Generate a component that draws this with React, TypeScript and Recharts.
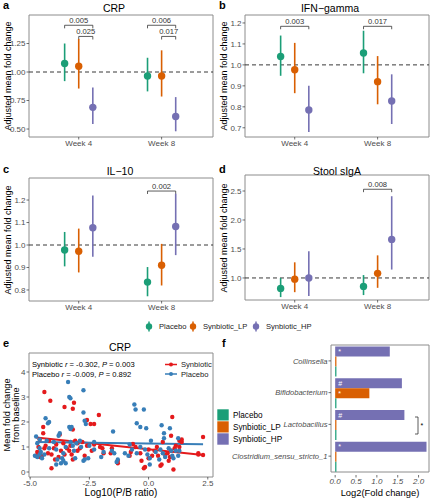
import React from 'react';
import {
  ComposedChart,
  Scatter,
  ErrorBar,
  XAxis,
  YAxis,
  ReferenceLine,
  ReferenceArea,
  BarChart,
  Bar,
  LabelList,
} from 'recharts';

const FONT = '"Liberation Sans", Arial, Helvetica, sans-serif';
const TICK = '#4d4d4d';
const BORDER = '#8c8c8c';

const weeks = ['Week 4', 'Week 8'];
const groups = ['Placebo', 'Synbiotic_LP', 'Synbiotic_HP'];
const groupColors = ['#1B9E77', '#D95F02', '#7570B3'];

// rows = groups (Placebo, LP, HP), cols = weeks (4, 8)
const crpMean = [[1.075, 0.965], [1.05, 0.965], [0.69, 0.61]];
const crpLow = [[0.92, 0.83], [0.855, 0.785], [0.545, 0.48]];
const crpHigh = [[1.25, 1.125], [1.29, 1.19], [0.865, 0.78]];

const ifnMean = [[1.04, 1.057], [0.977, 0.92], [0.785, 0.828]];
const ifnLow = [[0.948, 0.96], [0.865, 0.812], [0.68, 0.718]];
const ifnHigh = [[1.14, 1.163], [1.105, 1.042], [0.9, 0.955]];

const il10Mean = [[0.978, 0.835], [0.972, 0.91], [1.077, 1.082]];
const il10Low = [[0.905, 0.772], [0.878, 0.82], [0.948, 0.955]];
const il10High = [[1.058, 0.902], [1.073, 1.005], [1.22, 1.228]];

const sigaMean = [[0.82, 0.855], [0.98, 1.08], [1.0, 1.665]];
const sigaLow = [[0.67, 0.705], [0.755, 0.83], [0.69, 1.145]];
const sigaHigh = [[1.0, 1.05], [1.27, 1.39], [1.46, 2.41]];

type Bracket = { week: number; from: number; to: number; y: number; p: string };

const crpBrackets: Bracket[] = [
  { week: 0, from: 0, to: 2, y: 1.41, p: '0.005' },
  { week: 0, from: 1, to: 2, y: 1.312, p: '0.025' },
  { week: 1, from: 0, to: 2, y: 1.41, p: '0.006' },
  { week: 1, from: 1, to: 2, y: 1.312, p: '0.017' },
];
const ifnBrackets: Bracket[] = [
  { week: 0, from: 0, to: 2, y: 1.184, p: '0.003' },
  { week: 1, from: 0, to: 2, y: 1.184, p: '0.017' },
];
const il10Brackets: Bracket[] = [{ week: 1, from: 0, to: 2, y: 1.24, p: '0.002' }];
const sigaBrackets: Bracket[] = [{ week: 1, from: 0, to: 2, y: 2.53, p: '0.008' }];

// panel e: [log10(P/B), fold change]
const synbioticPoints: [number, number][] = [
  [-4.4, 3.2], [-4.15, 2.85], [-3.55, 2.6], [-3.15, 2.77], [-3.2, 2.53], [-2.6, 2.08], [-2.1, 2.28],
  [-2.3, 1.92], [-2.45, 1.92], [-4.45, 1.8], [-4.45, 1.55], [-3.75, 1.5], [-3.2, 1.7], [-4.6, 1.3],
  [-4.2, 1.25], [-4.75, 0.65], [-4.7, 0.8], [-4.65, 1.0], [-4.6, 0.6], [-4.5, 0.65], [-4.4, 0.95],
  [-4.35, 1.05], [-4.25, 0.75], [-4.1, 0.7], [-4.1, 0.15], [-4.0, 0.95], [-3.95, 0.5], [-3.9, 1.1],
  [-3.8, 0.6], [-3.7, 0.85], [-3.6, 1.15], [-3.55, 0.7], [-3.45, 0.95], [-3.35, 0.85], [-3.3, 1.05],
  [-3.25, 0.7], [-3.2, 0.5], [-3.1, 1.25], [-3.0, 1.15], [-3.0, 0.85], [-2.9, 0.95], [-2.8, 1.2],
  [-2.7, 0.65], [-2.6, 1.05], [-2.4, 0.85], [-2.3, 1.1], [-2.05, 1.0], [-1.95, 0.95], [-1.9, 0.75],
  [-1.6, 0.75], [-1.55, 0.95], [-1.3, 0.45], [-1.3, 0.35], [-0.8, 0.65], [-0.75, 0.8], [-0.66, 1.12],
  [-0.55, 1.0], [-0.35, 0.75], [-0.3, 0.45], [-0.2, 0.15], [-0.15, 0.2], [0.0, 0.9], [0.0, 0.55],
  [0.15, 0.65], [0.25, 0.85], [0.35, 1.0], [0.4, 0.65], [0.5, 0.25], [0.55, 0.3], [0.6, 1.2],
  [0.7, 0.7], [0.8, 0.75], [0.85, 0.45], [0.9, 0.6], [0.95, 0.85], [0.95, 1.45], [1.0, 2.2],
  [1.05, 0.1], [1.1, 0.95], [1.15, 1.05], [1.3, 1.0], [1.3, 1.25], [1.4, 1.3], [1.4, 1.2],
  [2.1, 0.75], [2.1, 0.7], [2.3, 0.68], [2.3, 1.4],
];
const placeboPoints: [number, number][] = [
  [-3.4, 3.6], [-3.35, 3.0], [-3.3, 2.95], [-2.75, 3.27], [-2.75, 2.38], [-2.7, 2.05], [-2.65, 1.92],
  [-0.6, 2.7], [-0.55, 2.5], [-0.2, 2.5], [-4.35, 2.15], [-4.2, 2.0], [-4.25, 1.95], [-3.35, 1.8],
  [-3.25, 1.8], [-3.3, 1.72], [-3.75, 1.55], [-3.8, 1.45], [-0.5, 1.95], [-0.35, 1.8], [-0.1, 1.75],
  [0.55, 1.87], [0.9, 1.75], [0.65, 1.55], [0.65, 1.35], [-1.5, 1.62], [1.25, 1.35], [-4.75, 1.42],
  [-4.6, 1.3], [-4.3, 1.25], [-4.8, 0.65], [-4.7, 1.15], [-4.7, 0.6], [-4.6, 0.95], [-4.6, 0.7],
  [-4.55, 0.8], [-4.5, 0.55], [-4.4, 0.7], [-4.2, 0.95], [-4.0, 1.2], [-3.9, 0.9], [-3.9, 0.3],
  [-3.85, 0.5], [-3.7, 0.35], [-3.65, 0.55], [-3.6, 0.45], [-3.6, 0.75], [-3.5, 0.35], [-3.5, 1.0],
  [-3.3, 1.2], [-3.2, 1.05], [-3.15, 0.85], [-3.1, 0.55], [-3.05, 1.15], [-2.9, 1.25], [-2.85, 1.0],
  [-2.75, 0.45], [-2.7, 0.5], [-2.55, 0.55], [-2.5, 1.05], [-2.3, 1.2], [-2.3, 0.9], [-2.0, 0.6],
  [-1.9, 0.8], [-1.55, 0.85], [-1.45, 0.75], [-1.35, 0.4], [-1.3, 0.5], [-1.0, 0.75], [-0.85, 0.65],
  [-0.8, 1.1], [-0.7, 0.9], [-0.5, 0.75], [-0.35, 1.0], [-0.15, 0.9], [-0.05, 0.7], [0.05, 0.55],
  [0.05, 0.3], [0.1, 1.25], [0.3, 0.8], [0.45, 0.5], [0.5, 0.9], [0.6, 0.75], [0.7, 0.6],
  [0.85, 0.95], [0.95, 0.85], [1.0, 0.65], [1.05, 0.55], [1.15, 0.85], [1.25, 0.65], [1.3, 0.85],
];
// fitted lines
const synbioticFit = [{ x: -4.75, y: 1.38 }, { x: 2.3, y: 0.68 }];
const placeboFit = [{ x: -4.75, y: 1.2 }, { x: 2.3, y: 1.11 }];

// panel f
const genera = ['Collinsella', 'Bifidobacterium', 'Lactobacillus', 'Clostridium_sensu_stricto_1'];
const fcPlacebo = [0.03, 0.03, 0.03, 0.03];
const fcLP = [0.03, 0.82, 0.03, 0.03];
const fcHP = [1.31, 1.6, 1.66, 2.19];
const sigLP = ['', '*', '', ''];
const sigHP = ['*', '#', '#', '*'];

const DODGE = 0.17;
const xOf = (week: number, g: number) => week + 1 + (g - 1) * DODGE;
const X_DOMAIN: [number, number] = [0.4, 2.62];

const tickStyle = { fontSize: 8, fill: TICK, fontFamily: FONT };
const tickLine = { stroke: '#333', strokeWidth: 0.7 };

type PanelProps = {
  left: number;
  top: number;
  height: number;
  plotTop: number;
  plotBottom: number;
  mean: number[][];
  low: number[][];
  high: number[][];
  yDomain: [number, number];
  yTicks: number[];
  digits: number;
  brackets: Bracket[];
  tickLen: number;
};

function FoldPanel(p: PanelProps) {
  const series = groups.map((_, gi) =>
    weeks.map((__, wi) => ({
      x: xOf(wi, gi),
      y: p.mean[gi][wi],
      err: [p.mean[gi][wi] - p.low[gi][wi], p.high[gi][wi] - p.mean[gi][wi]],
    }))
  );
  return (
    <div style={{ position: 'absolute', left: p.left, top: p.top }}>
      <ComposedChart width={216} height={p.height} margin={{ top: p.plotTop, right: 3, bottom: 0, left: 0 }}>
        <XAxis
          type="number"
          dataKey="x"
          domain={X_DOMAIN}
          ticks={[1, 2]}
          tickFormatter={(v: number) => weeks[v - 1]}
          allowDataOverflow
          axisLine={false}
          tickSize={2.5}
          tickLine={tickLine}
          tick={tickStyle}
          tickMargin={1}
          height={p.height - p.plotBottom}
        />
        <YAxis
          type="number"
          dataKey="y"
          domain={p.yDomain}
          ticks={p.yTicks}
          tickFormatter={(v: number) => v.toFixed(p.digits)}
          allowDataOverflow
          axisLine={false}
          tickSize={2.5}
          tickLine={tickLine}
          tick={tickStyle}
          tickMargin={1}
          width={29}
        />
        <ReferenceArea
          x1={X_DOMAIN[0]}
          x2={X_DOMAIN[1]}
          y1={p.yDomain[0]}
          y2={p.yDomain[1]}
          fill="none"
          stroke={BORDER}
          strokeWidth={1}
          ifOverflow="visible"
        />
        <ReferenceLine y={1} stroke="#222" strokeDasharray="4 3" strokeWidth={0.9} />
        {p.brackets.flatMap((b, i) => {
          const x1 = xOf(b.week, b.from);
          const x2 = xOf(b.week, b.to);
          const yb = b.y - p.tickLen;
          return [
            <ReferenceLine
              key={'h' + i}
              segment={[{ x: x1, y: b.y }, { x: x2, y: b.y }]}
              stroke="#333"
              strokeWidth={0.8}
              label={{ value: b.p, position: 'top', offset: 2, fontSize: 7.6, fill: '#333', fontFamily: FONT }}
            />,
            <ReferenceLine key={'l' + i} segment={[{ x: x1, y: b.y }, { x: x1, y: yb }]} stroke="#333" strokeWidth={0.8} />,
            <ReferenceLine key={'r' + i} segment={[{ x: x2, y: b.y }, { x: x2, y: yb }]} stroke="#333" strokeWidth={0.8} />,
          ];
        })}
        {series.map((d, gi) => (
          <Scatter
            key={groups[gi]}
            data={d}
            fill={groupColors[gi]}
            isAnimationActive={false}
            shape={(s: any) => <circle cx={s.cx} cy={s.cy} r={3.7} fill={groupColors[gi]} />}
          >
            <ErrorBar dataKey="err" direction="y" width={0} stroke={groupColors[gi]} strokeWidth={1.6} />
          </Scatter>
        ))}
      </ComposedChart>
    </div>
  );
}

function CorrPanel() {
  const syn = synbioticPoints.map(([x, y]) => ({ x, y }));
  const pla = placeboPoints.map(([x, y]) => ({ x, y }));
  const xd: [number, number] = [-5.05, 2.72];
  const yd: [number, number] = [-0.2, 4.76];
  return (
    <div style={{ position: 'absolute', left: 0, top: 340 }}>
      <ComposedChart width={216} height={160} margin={{ top: 13, right: 3, bottom: 0, left: 0 }}>
        <XAxis
          type="number"
          dataKey="x"
          domain={xd}
          ticks={[-5, -2.5, 0, 2.5]}
          tickFormatter={(v: number) => v.toFixed(1)}
          allowDataOverflow
          axisLine={false}
          tickSize={2.5}
          tickLine={tickLine}
          tick={tickStyle}
          tickMargin={1}
          height={23}
        />
        <YAxis
          type="number"
          dataKey="y"
          domain={yd}
          ticks={[0, 1, 2, 3, 4]}
          allowDataOverflow
          axisLine={false}
          tickSize={2.5}
          tickLine={tickLine}
          tick={tickStyle}
          tickMargin={1}
          width={29}
        />
        <ReferenceArea x1={xd[0]} x2={xd[1]} y1={yd[0]} y2={yd[1]} fill="none" stroke={BORDER} ifOverflow="visible" />
        <Scatter
          data={syn}
          fill="#E41A1C"
          isAnimationActive={false}
          shape={(s: any) => <circle cx={s.cx} cy={s.cy} r={2.2} fill="#E41A1C" />}
        />
        <Scatter
          data={pla}
          fill="#377EB8"
          isAnimationActive={false}
          shape={(s: any) => <circle cx={s.cx} cy={s.cy} r={2.2} fill="#377EB8" />}
        />
        <ReferenceLine segment={synbioticFit} stroke="#E41A1C" strokeWidth={1.8} />
        <ReferenceLine segment={placeboFit} stroke="#377EB8" strokeWidth={1.8} />
      </ComposedChart>
    </div>
  );
}

function GenusPanel() {
  const data = genera.map((g, i) => ({
    genus: g,
    placebo: fcPlacebo[i],
    lp: fcLP[i],
    hp: fcHP[i],
    lpSig: sigLP[i],
    hpSig: sigHP[i],
  }));
  const xd: [number, number] = [-0.1, 2.25];
  const sigLabel = { position: 'insideLeft' as const, offset: 3, fill: '#fff', fontSize: 7, fontFamily: FONT };
  return (
    <div style={{ position: 'absolute', left: 216, top: 330 }}>
      <BarChart
        layout="vertical"
        width={217}
        height={170}
        data={data}
        margin={{ top: 12, right: 4, bottom: 0, left: 0 }}
        barCategoryGap={1.6}
        barGap={0}
      >
        <XAxis
          type="number"
          domain={xd}
          ticks={[0, 0.5, 1, 1.5, 2]}
          tickFormatter={(v: number) => v.toFixed(1)}
          allowDataOverflow
          axisLine={false}
          tickSize={2.5}
          tickLine={tickLine}
          tick={{ ...tickStyle, fontStyle: 'italic' }}
          tickMargin={1}
          height={25}
        />
        <YAxis
          type="category"
          dataKey="genus"
          width={115}
          padding={{ top: 3, bottom: 3 }}
          axisLine={false}
          tickSize={2.5}
          tickLine={tickLine}
          tick={{ ...tickStyle, fontSize: 7.6, fontStyle: 'italic' }}
          tickMargin={1}
        />
        <ReferenceArea x1={xd[0]} x2={xd[1]} fill="none" stroke={BORDER} ifOverflow="visible" />
        <Bar dataKey="hp" fill={groupColors[2]} isAnimationActive={false}>
          <LabelList dataKey="hpSig" {...sigLabel} />
        </Bar>
        <Bar dataKey="lp" fill={groupColors[1]} isAnimationActive={false}>
          <LabelList dataKey="lpSig" {...sigLabel} />
        </Bar>
        <Bar dataKey="placebo" fill={groupColors[0]} isAnimationActive={false} />
      </BarChart>
    </div>
  );
}

function Overlay() {
  const letter = { fontSize: 11, fontWeight: 700, fill: '#000' };
  const title = { fontSize: 10.5, fill: '#000', textAnchor: 'middle' as const };
  const ylab = { fontSize: 9, fill: '#000', textAnchor: 'middle' as const, dominantBaseline: 'central' as const };
  const small = { fontSize: 7.6, fill: '#000' };
  const legendXs = [149, 193, 256];
  return (
    <svg
      width={433}
      height={500}
      style={{ position: 'absolute', left: 0, top: 0, pointerEvents: 'none', fontFamily: FONT }}
    >
      <text x={3} y={9} {...letter}>a</text>
      <text x={219} y={9} {...letter}>b</text>
      <text x={3} y={173} {...letter}>c</text>
      <text x={219} y={173} {...letter}>d</text>
      <text x={3} y={347} {...letter}>e</text>
      <text x={222} y={347} {...letter}>f</text>

      <text x={114} y={11.5} {...title}>CRP</text>
      <text x={330} y={11.5} {...title}>IFN{'\u2212'}gamma</text>
      <text x={120} y={174.5} {...title}>IL{'\u2212'}10</text>
      <text x={337} y={174.5} {...title}>Stool sIgA</text>
      <text x={120} y={350.5} {...title}>CRP</text>

      <text x={7.5} y={76} transform="rotate(-90 7.5 76)" {...ylab}>Adjusted mean fold change</text>
      <text x={223.5} y={76} transform="rotate(-90 223.5 76)" {...ylab}>Adjusted mean fold change</text>
      <text x={7.5} y={240} transform="rotate(-90 7.5 240)" {...ylab}>Adjusted mean fold change</text>
      <text x={223.5} y={238} transform="rotate(-90 223.5 238)" {...ylab}>Adjusted mean fold change</text>
      <text x={6.5} y={415} transform="rotate(-90 6.5 415)" {...ylab} fontSize={9.2}>Mean fold change</text>
      <text x={16} y={415} transform="rotate(-90 16 415)" {...ylab} fontSize={9.2}>from baseline</text>

      <text x={121} y={496} fontSize={10} textAnchor="middle">Log10(P/B ratio)</text>
      <text x={380} y={496} fontSize={9.4} textAnchor="middle">Log2(Fold change)</text>

      {/* shared legend for a-d */}
      {groups.map((g, i) => (
        <g key={g}>
          <line x1={legendXs[i]} x2={legendXs[i]} y1={321.5} y2={331.5} stroke={groupColors[i]} strokeWidth={1.5} />
          <circle cx={legendXs[i]} cy={326.5} r={3.2} fill={groupColors[i]} />
          <text x={legendXs[i] + 10} y={329.3} {...small} fill="#222">{g}</text>
        </g>
      ))}

      {/* panel e annotations */}
      <text x={32} y={367} {...small}>
        Synbiotic <tspan fontStyle="italic">r</tspan> = -0.302, <tspan fontStyle="italic">P</tspan> = 0.003
      </text>
      <text x={32} y={376.5} {...small}>
        Placebo <tspan fontStyle="italic">r</tspan> = -0.009, <tspan fontStyle="italic">P</tspan> = 0.892
      </text>
      <line x1={165} x2={177} y1={364.5} y2={364.5} stroke="#E41A1C" strokeWidth={1.5} />
      <circle cx={171} cy={364.5} r={2} fill="#E41A1C" />
      <text x={181} y={367.2} {...small} fill="#222">Synbiotic</text>
      <line x1={165} x2={177} y1={374} y2={374} stroke="#377EB8" strokeWidth={1.5} />
      <circle cx={171} cy={374} r={2} fill="#377EB8" />
      <text x={181} y={376.7} {...small} fill="#222">Placebo</text>

      {/* panel f legend */}
      {groups.map((g, i) => (
        <g key={'f' + g}>
          <rect x={217} y={409 + i * 12} width={12} height={12} fill={groupColors[i]} stroke="#fff" strokeWidth={0.6} />
          <text x={233} y={418.2 + i * 12} fontSize={8.2} fill="#000">{g}</text>
        </g>
      ))}

      {/* panel f bracket */}
      <path d="M415 417 H418 V434 H415" fill="none" stroke="#333" strokeWidth={0.8} />
      <text x={420.5} y={428} fontSize={7} fill="#000">*</text>
    </svg>
  );
}

export default function App() {
  return (
    <div style={{ position: 'relative', width: 433, height: 500, background: '#fff', fontFamily: FONT, overflow: 'hidden' }}>
      <style>{'body{margin:0}'}</style>
      <FoldPanel
        left={0}
        top={0}
        height={160}
        plotTop={15}
        plotBottom={137}
        mean={crpMean}
        low={crpLow}
        high={crpHigh}
        yDomain={[0.43, 1.5]}
        yTicks={[0.5, 0.75, 1.0, 1.25]}
        digits={2}
        brackets={crpBrackets}
        tickLen={0.027}
      />
      <FoldPanel
        left={216}
        top={0}
        height={160}
        plotTop={15}
        plotBottom={137}
        mean={ifnMean}
        low={ifnLow}
        high={ifnHigh}
        yDomain={[0.656, 1.238]}
        yTicks={[0.7, 0.8, 0.9, 1.0, 1.1, 1.2]}
        digits={1}
        brackets={ifnBrackets}
        tickLen={0.014}
      />
      <FoldPanel
        left={0}
        top={160}
        height={155}
        plotTop={18}
        plotBottom={141}
        mean={il10Mean}
        low={il10Low}
        high={il10High}
        yDomain={[0.751, 1.298]}
        yTicks={[0.8, 0.9, 1.0, 1.1, 1.2]}
        digits={1}
        brackets={il10Brackets}
        tickLen={0.013}
      />
      <FoldPanel
        left={216}
        top={160}
        height={155}
        plotTop={15}
        plotBottom={140}
        mean={sigaMean}
        low={sigaLow}
        high={sigaHigh}
        yDomain={[0.62, 2.776]}
        yTicks={[1.0, 1.5, 2.0, 2.5]}
        digits={1}
        brackets={sigaBrackets}
        tickLen={0.05}
      />
      <CorrPanel />
      <GenusPanel />
      <Overlay />
    </div>
  );
}
